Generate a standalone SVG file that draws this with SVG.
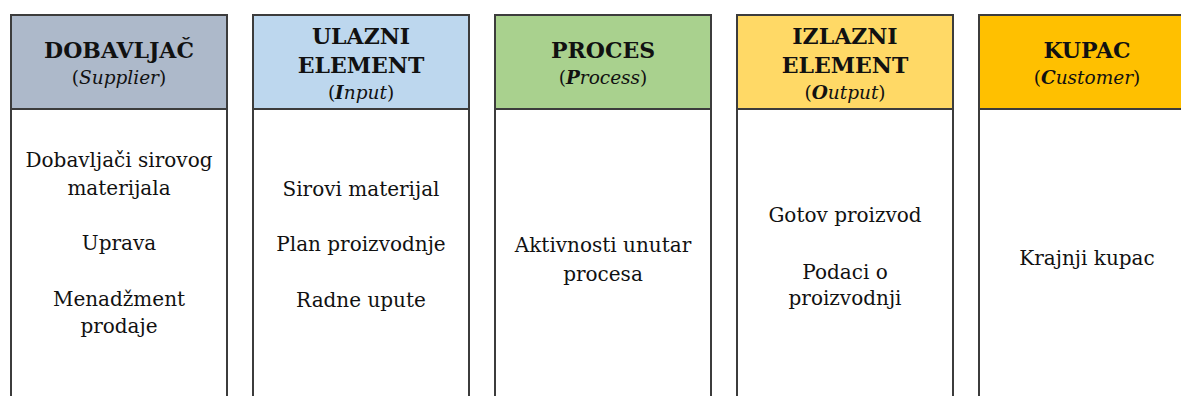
<svg xmlns="http://www.w3.org/2000/svg" width="1181" height="396" viewBox="0 0 1181 396">
<style>
.box{fill:#ffffff;stroke:#3c3c3c;stroke-width:2}
.hdr{stroke:#3c3c3c;stroke-width:2}
text{font-family:'DejaVu Serif','Liberation Serif',serif;fill:#111;text-anchor:middle}
.h{font-size:22px;font-weight:bold}
.s{font-size:18.5px}
.t{font-size:20px}
.i{font-style:italic}
.b{font-weight:bold}
</style>
<rect width="1181" height="396" fill="#ffffff"/>
<g id="supplier">
<rect class="box" x="11" y="15" width="216" height="400"/>
<rect class="hdr" x="11" y="15" width="216" height="94" fill="#ADB9CA"/>
<text class="h" x="119" y="58">DOBAVLJAČ</text>
<text class="s" x="119" y="84">(<tspan class="i">Supplier</tspan>)</text>
<text class="t" x="119" y="167">Dobavljači sirovog</text>
<text class="t" x="119" y="195">materijala</text>
<text class="t" x="119" y="250">Uprava</text>
<text class="t" x="119" y="306">Menadžment</text>
<text class="t" x="119" y="333">prodaje</text>
</g>
<g id="input">
<rect class="box" x="253" y="15" width="216" height="400"/>
<rect class="hdr" x="253" y="15" width="216" height="94" fill="#BDD7EE"/>
<text class="h" x="361" y="44">ULAZNI</text>
<text class="h" x="361" y="73">ELEMENT</text>
<text class="s" x="361" y="99">(<tspan class="i b">I</tspan><tspan class="i">nput</tspan>)</text>
<text class="t" x="361" y="196">Sirovi materijal</text>
<text class="t" x="361" y="251">Plan proizvodnje</text>
<text class="t" x="361" y="307">Radne upute</text>
</g>
<g id="process">
<rect class="box" x="495" y="15" width="216" height="400"/>
<rect class="hdr" x="495" y="15" width="216" height="94" fill="#A9D18E"/>
<text class="h" x="603" y="58">PROCES</text>
<text class="s" x="603" y="84">(<tspan class="i b">P</tspan><tspan class="i">rocess</tspan>)</text>
<text class="t" x="603" y="252">Aktivnosti unutar</text>
<text class="t" x="603" y="281">procesa</text>
</g>
<g id="output">
<rect class="box" x="737" y="15" width="216" height="400"/>
<rect class="hdr" x="737" y="15" width="216" height="94" fill="#FFD966"/>
<text class="h" x="845" y="44">IZLAZNI</text>
<text class="h" x="845" y="73">ELEMENT</text>
<text class="s" x="845" y="99">(<tspan class="i b">O</tspan><tspan class="i">utput</tspan>)</text>
<text class="t" x="845" y="222">Gotov proizvod</text>
<text class="t" x="845" y="279">Podaci o</text>
<text class="t" x="845" y="305">proizvodnji</text>
</g>
<g id="customer">
<rect class="box" x="979" y="15" width="216" height="400"/>
<rect class="hdr" x="979" y="15" width="216" height="94" fill="#FFC000"/>
<text class="h" x="1087" y="58">KUPAC</text>
<text class="s" x="1087" y="84">(<tspan class="i b">C</tspan><tspan class="i">ustomer</tspan>)</text>
<text class="t" x="1087" y="265">Krajnji kupac</text>
</g>
<g id="connectors"></g>
</svg>
